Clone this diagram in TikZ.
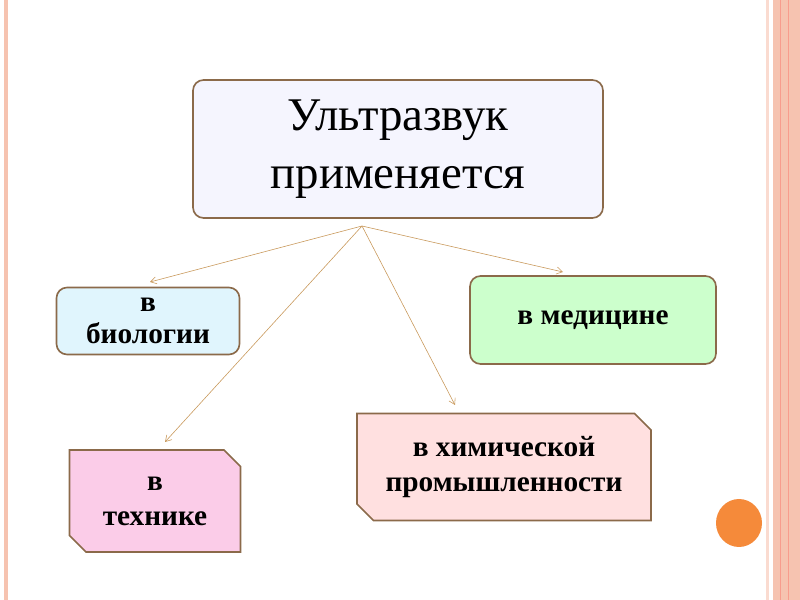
\documentclass[tikz,border=0pt]{standalone}
\usepackage{fontspec}
\setmainfont{Liberation Serif}
\usetikzlibrary{shapes.misc,arrows.meta}
\definecolor{edgebrown}{HTML}{8B6A4A}
\definecolor{arrowtan}{HTML}{C8985A}
\definecolor{framepink}{HTML}{F6C3B0}
\definecolor{dotorange}{HTML}{F58A3A}
\begin{document}
\begin{tikzpicture}[x=0.03cm,y=-0.03cm,
  box/.style={draw=edgebrown, line width=1.4pt, align=center, font=\bfseries\fontsize{25}{30}\selectfont},
  roundbox/.style={box, rounded corners=9pt},
  snipbox/.style={box, chamfered rectangle, chamfered rectangle corners={north east,south west}, chamfered rectangle xsep=11pt},
  link/.style={arrowtan, line width=0.5pt, -{Straight Barb[length=5pt,width=6pt]}}]
  \useasboundingbox (0,0) rectangle (800,600);
  % frame
  \fill[framepink] (4,0) rectangle (8,600);
  \fill[framepink!60] (766,0) rectangle (769,600);
  \fill[framepink] (773,0) rectangle (800,600);
  \draw[framepink!80!red, line width=0.6pt] (780,0) -- (780,600) (788,0) -- (788,600);
  % nodes
  \node[roundbox, fill=gray!10!blue!4, minimum width=410*0.03cm, minimum height=138*0.03cm,
        font=\fontsize{40}{50}\selectfont] (main) at (398,149) {Ультразвук\\применяется};
  \node[roundbox, fill=cyan!12, minimum width=183*0.03cm, minimum height=67*0.03cm, inner sep=1pt,
        font=\bfseries\fontsize{25}{27}\selectfont] (bio) at (148,321) {в\\биологии};
  \node[roundbox, fill=green!20, minimum width=246*0.03cm, minimum height=88*0.03cm] (med) at (593,320) {в медицине};
  \node[snipbox, fill=magenta!20, minimum width=171*0.03cm, minimum height=102*0.03cm, inner sep=0pt] (tech) at (155,501) {в\\технике};
  \node[snipbox, fill=red!12, minimum width=294*0.03cm, minimum height=107*0.03cm, inner sep=0pt] (chem) at (504,467) {в химической\\промышленности};
  \fill[dotorange] (739,523) ellipse (23 and 24);
  % links
  \coordinate (hub) at (362,226);
  \draw[link] (hub) -- (150,282);
  \draw[link] (hub) -- (165,442);
  \draw[link] (hub) -- (455,405);
  \draw[link] (hub) -- (563,272);
\end{tikzpicture}
\end{document}
